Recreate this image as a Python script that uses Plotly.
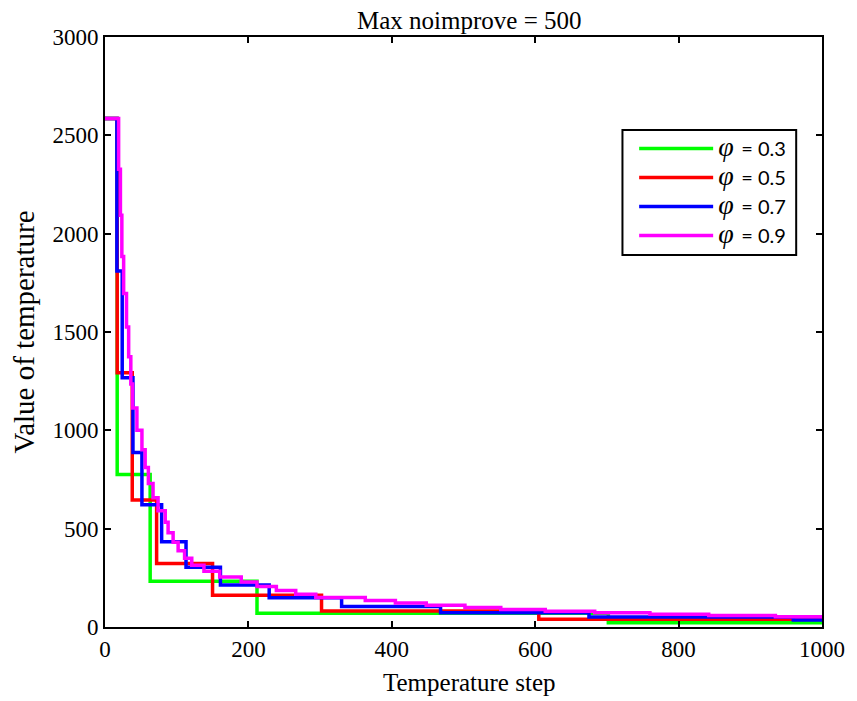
import plotly.graph_objects as go

# Step-function temperature schedules (x = step where the level starts)
x_phi03 = [0, 17, 63, 212, 702, 1000]
y_phi03 = [2585, 776, 233, 70, 21, 21]

x_phi05 = [0, 17, 38, 72, 150, 302, 605, 1000]
y_phi05 = [2585, 1293, 646, 323, 162, 81, 40, 40]

x_phi07 = [0, 16.6, 24, 39, 51.5, 79, 113, 161, 229, 330, 468, 675, 960, 1000]
y_phi07 = [2585, 1810, 1267, 887, 621, 434, 304, 213, 149, 104, 73, 51, 36, 36]

x_phi09 = [0, 19, 21.5, 23.5, 26, 30, 33, 36, 38.5, 44.5, 51.5, 56, 60.5, 67, 74, 84, 88,
           95, 102, 111, 121, 138, 160, 190, 212, 239, 266, 294, 363, 405, 448, 502, 552,
           614, 683, 760, 842, 935, 1000]
y_phi09 = [2585, 2327, 2094, 1884, 1696, 1526, 1374, 1236, 1113, 1001, 901, 811, 730, 657,
           591, 532, 479, 431, 388, 349, 314, 283, 254, 229, 206, 185, 167, 150, 135, 122,
           110, 99, 89, 80, 72, 65, 58, 52, 52]

series_labels = ["0.3", "0.5", "0.7", "0.9"]
series_colors = ["#00FF00", "#FF0000", "#0000FF", "#FF00FF"]
xs = [x_phi03, x_phi05, x_phi07, x_phi09]
ys = [y_phi03, y_phi05, y_phi07, y_phi09]

x_ticks = [0, 200, 400, 600, 800, 1000]
y_ticks = [0, 500, 1000, 1500, 2000, 2500, 3000]

fig = go.Figure()
for xv, yv, lab, col in zip(xs, ys, series_labels, series_colors):
    name = ('<span style="font-family:Liberation Serif;font-style:italic;font-size:28px">φ</span>'
            '&#8201; = ' + lab)
    fig.add_trace(go.Scatter(x=xv, y=yv, mode="lines", line_shape="hv",
                             line=dict(color=col, width=3.5), name=name))

serif = "Liberation Serif, Times New Roman, serif"
W, H = 849, 693  # page body has an 8px margin
fig.update_layout(
    width=W, height=H,
    margin=dict(l=97, r=30, t=29, b=74),
    font=dict(family=serif, color="black"),
    paper_bgcolor="white", plot_bgcolor="white",
    showlegend=True,
    legend=dict(x=0.738, y=0.844, xanchor="left", yanchor="top",
                bgcolor="rgba(0,0,0,0)", borderwidth=0,
                font=dict(family="Lato", size=20, color="black"),
                itemwidth=74, tracegroupgap=0),
    xaxis=dict(range=[0, 1000], tickvals=x_ticks, ticktext=[str(v) for v in x_ticks],
               showgrid=False, zeroline=False, showline=True, linecolor="black", linewidth=2,
               mirror="ticks", ticks="inside", ticklen=6, tickwidth=1.5, tickcolor="black",
               tickfont=dict(family=serif, size=23, color="black")),
    yaxis=dict(range=[0, 3000], tickvals=y_ticks, ticktext=[str(v) for v in y_ticks],
               showgrid=False, zeroline=False, showline=True, linecolor="black", linewidth=2,
               mirror="ticks", ticks="inside", ticklen=6, tickwidth=1.5, tickcolor="black",
               tickfont=dict(family=serif, size=23, color="black"),
               title=dict(text="Value of temperature", font=dict(family=serif, size=29, color="black"),
                          standoff=9)),
    shapes=[dict(type="rect", xref="paper", yref="paper",
                 x0=0.7217, x1=0.9640, y0=0.6305, y1=0.8424,
                 line=dict(color="black", width=2), fillcolor="white", layer="above")],
    annotations=[
        dict(text="Max noimprove = 500", xref="paper", yref="paper",
             x=0.508, y=1.0288, xanchor="center", yanchor="middle",
             showarrow=False, font=dict(family=serif, size=25, color="black")),
        dict(text="Temperature step", xref="paper", yref="paper",
             x=0.508, y=-0.0949, xanchor="center", yanchor="middle",
             showarrow=False, font=dict(family=serif, size=25, color="black")),
    ],
)

fig.write_html("out.html")
